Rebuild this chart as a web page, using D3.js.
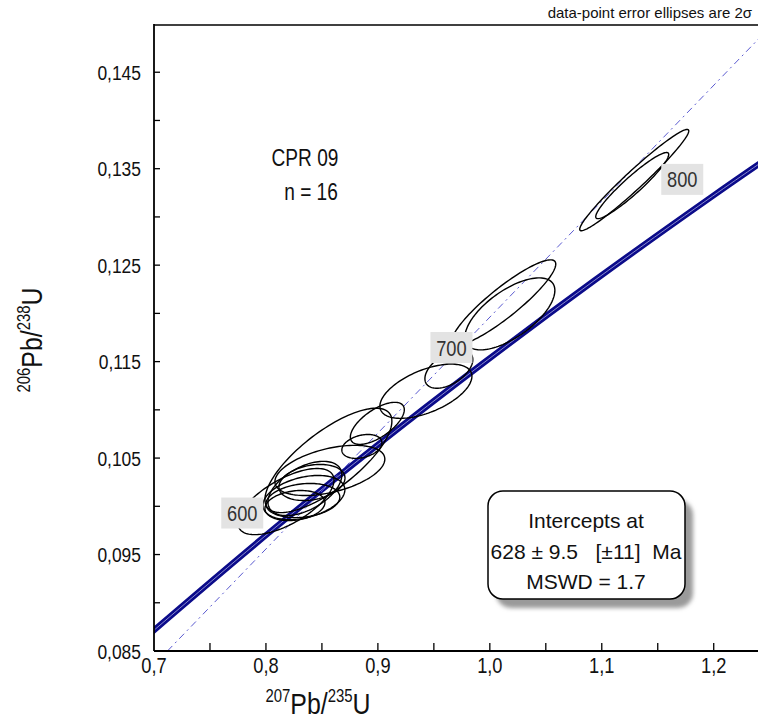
<!DOCTYPE html>
<html><head><meta charset="utf-8">
<script src="https://cdn.jsdelivr.net/npm/d3@7"></script>
<style>
body{margin:0;background:#fff;}
svg text{font-family:"Liberation Sans Narrow","Arial Narrow","Liberation Sans",Arial,sans-serif;fill:#111;}
</style></head><body>
<svg id="c" width="758" height="724"></svg>
<script>
// ---- axes / ticks ----
const xMajorTicks = [0.7, 0.8, 0.9, 1.0, 1.1, 1.2];
const xMajorLabels = ["0,7", "0,8", "0,9", "1,0", "1,1", "1,2"];
const xMinorTicks = [0.75, 0.85, 0.95, 1.05, 1.15];
const yMajorTicks = [0.085, 0.095, 0.105, 0.115, 0.125, 0.135, 0.145];
const yMajorLabels = ["0,085", "0,095", "0,105", "0,115", "0,125", "0,135", "0,145"];
const yMinorTicks = [0.09, 0.10, 0.11, 0.12, 0.13, 0.14];

// ---- data-point error ellipses (207Pb/235U, 206Pb/238U, 2s errors, rho) ----
const ellX    = [1.1290, 1.1272, 1.0125, 1.0179, 0.9634, 0.9429, 0.8558, 0.8571, 0.8857, 0.8995, 0.8339, 0.8330, 0.8259, 0.8348, 0.8179, 0.8411];
const ellY    = [0.13382, 0.13325, 0.12113, 0.11995, 0.11422, 0.11193, 0.10476, 0.10372, 0.10621, 0.10860, 0.10091, 0.10060, 0.10008, 0.10185, 0.10049, 0.10247];
const ellErrX = [0.0487, 0.0326, 0.0464, 0.0402, 0.0214, 0.0411, 0.0567, 0.0491, 0.0179, 0.0241, 0.0366, 0.0330, 0.0268, 0.0330, 0.0429, 0.0295];
const ellErrY = [0.00525, 0.00343, 0.00442, 0.00373, 0.00198, 0.00281, 0.00541, 0.00260, 0.00124, 0.00218, 0.00229, 0.00177, 0.00156, 0.00281, 0.00343, 0.00187];
const ellRho  = [0.97, 0.94, 0.90, 0.65, 0.50, 0.55, 0.75, 0.45, 0.30, 0.65, 0.35, 0.20, 0.20, 0.50, 0.65, 0.25];

// ---- concordia curve (age Ma, 207Pb/235U, 206Pb/238U) ----
const concAge = [520, 530, 600, 650, 700, 750, 800, 830];
const concX   = [0.66883, 0.68535, 0.80563, 0.89676, 0.99251, 1.09307, 1.19870, 1.26463];
const concY   = [0.08401, 0.08569, 0.09754, 0.10609, 0.11470, 0.12338, 0.13213, 0.13741];
const ageLabelAges = [600, 700, 800];
const ageLabelX = [0.80563, 0.99251, 1.19870];
const ageLabelY = [0.09754, 0.11470, 0.13213];

// ---- discordia (regression) line ----
const discX = [0.712, 1.24];
const discY = [0.085, 0.14845];

// ---- texts ----
const sampleName = "CPR 09";
const sampleN = "n = 16";
const legendLines = ["Intercepts at", "628 \u00b1 9.5   [\u00b111]  Ma", "MSWD = 1.7"];
const noteText = "data-point error ellipses are 2\u03c3";

const svg = d3.select("#c");
const W = 758, H = 724;
const L = 154, T = 24, B = 651, R = 758.5;
const SX = 0.83; // condensed look
const x = d3.scaleLinear().domain([0.7, 1.24]).range([L, R]);
const y = d3.scaleLinear().domain([0.085, 0.15]).range([B, T]);

svg.append("rect").attr("width", W).attr("height", H).attr("fill", "#fff");

function ntext(px, py, str, size, anchor, rot) {
  return svg.append("text")
    .attr("transform", `translate(${px},${py})` + (rot ? ` rotate(${rot})` : "") + ` scale(${SX},1)`)
    .attr("text-anchor", anchor).attr("font-size", size).text(str);
}

const defs = svg.append("defs");
defs.append("clipPath").attr("id", "plotclip").append("rect")
  .attr("x", L).attr("y", T).attr("width", R - L).attr("height", B - T);
const blur = defs.append("filter").attr("id", "sh").attr("x", "-10%").attr("y", "-10%").attr("width", "130%").attr("height", "130%");
blur.append("feGaussianBlur").attr("stdDeviation", 2);

const plot = svg.append("g").attr("clip-path", "url(#plotclip)");

// concordia band
const cData = concAge.map((a, i) => [concX[i], concY[i]]);
const cLine = d3.line().x(d => x(d[0])).y(d => y(d[1])).curve(d3.curveCatmullRom);
plot.append("path").attr("d", cLine(cData)).attr("fill", "none")
  .attr("stroke", "#0b0b8a").attr("stroke-width", 6);
plot.append("path").attr("d", cLine(cData)).attr("fill", "none")
  .attr("stroke", "#9a9ad8").attr("stroke-width", 0.9);

// discordia dashed
plot.append("path").attr("d", d3.line().x(d => x(d[0])).y(d => y(d[1]))(discX.map((v, i) => [v, discY[i]])))
  .attr("fill", "none").attr("stroke", "#5a5ad0").attr("stroke-width", 1)
  .attr("stroke-dasharray", "7,4,2,4");

// ellipses
const ellLine = d3.line().x(d => x(d[0])).y(d => y(d[1])).curve(d3.curveLinearClosed);
ellX.forEach((cx, i) => {
  const pts = d3.range(0, 360, 3).map(deg => {
    const t = deg * Math.PI / 180;
    const r = ellRho[i];
    return [cx + ellErrX[i] * Math.cos(t),
            ellY[i] + ellErrY[i] * (r * Math.cos(t) + Math.sqrt(1 - r * r) * Math.sin(t))];
  });
  plot.append("path").attr("d", ellLine(pts)).attr("fill", "none")
    .attr("stroke", "#000").attr("stroke-width", 1.4);
});

// age labels
ageLabelAges.forEach((a, i) => {
  const px = x(ageLabelX[i]) - 30, py = y(ageLabelY[i]) - 17;
  svg.append("rect").attr("x", px - 21).attr("y", py - 15.5).attr("width", 42).attr("height", 31)
    .attr("fill", "#e3e3e3");
  ntext(px, py + 8, a, 22, "middle").style("fill", "#333");
});

// frame
const ax = svg.append("g").attr("stroke", "#000").attr("fill", "none");
ax.append("line").attr("x1", L).attr("x2", L).attr("y1", T).attr("y2", B).attr("stroke-width", 1.8);
ax.append("line").attr("x1", L).attr("x2", W).attr("y1", B).attr("y2", B).attr("stroke-width", 1.8);
ax.append("line").attr("x1", L).attr("x2", W).attr("y1", T + 1).attr("y2", T + 1).attr("stroke-width", 1.6);

// ticks
xMajorTicks.concat(xMinorTicks).forEach(v => {
  if (v <= 0.7) return;
  ax.append("line").attr("x1", x(v)).attr("x2", x(v)).attr("y1", B).attr("y2", B - 8).attr("stroke-width", 1.3);
});
yMajorTicks.concat(yMinorTicks).forEach(v => {
  if (v <= 0.085) return;
  ax.append("line").attr("x1", L).attr("x2", L + 6).attr("y1", y(v)).attr("y2", y(v)).attr("stroke-width", 1.3);
});

// tick labels
xMajorTicks.forEach((v, i) => ntext(x(v), 673, xMajorLabels[i], 22, "middle"));
yMajorTicks.forEach((v, i) => ntext(141, y(v) + 7.5, yMajorLabels[i], 21, "end"));

// axis titles
const xt = ntext(318, 714, "", 30, "middle");
xt.append("tspan").attr("font-size", 18).attr("dy", -12).text("207");
xt.append("tspan").attr("dy", 12).text("Pb/");
xt.append("tspan").attr("font-size", 18).attr("dy", -12).text("235");
xt.append("tspan").attr("dy", 12).text("U");

const yt = ntext(42, 340, "", 30, "middle", -90);
yt.append("tspan").attr("font-size", 18).attr("dy", -12).text("206");
yt.append("tspan").attr("dy", 12).text("Pb/");
yt.append("tspan").attr("font-size", 18).attr("dy", -12).text("238");
yt.append("tspan").attr("dy", 12).text("U");

// sample annotation
ntext(305, 166, sampleName, 23, "middle");
ntext(311, 200, sampleN, 23, "middle");

// note
svg.append("text").attr("x", 752).attr("y", 18).attr("text-anchor", "end").attr("font-size", 15).text(noteText);

// legend box
svg.append("rect").attr("x", 496).attr("y", 500).attr("width", 197).attr("height", 108).attr("rx", 15)
  .attr("fill", "#9a9a9a").attr("filter", "url(#sh)");
svg.append("rect").attr("x", 488).attr("y", 491).attr("width", 197).attr("height", 108).attr("rx", 15)
  .attr("fill", "#fff").attr("stroke", "#000").attr("stroke-width", 1.5);
legendLines.forEach((s, i) => {
  svg.append("text").attr("x", 586).attr("y", 528 + i * 30.5).attr("text-anchor", "middle")
    .attr("font-size", 21).style("white-space", "pre").text(s);
});
</script>
</body></html>
